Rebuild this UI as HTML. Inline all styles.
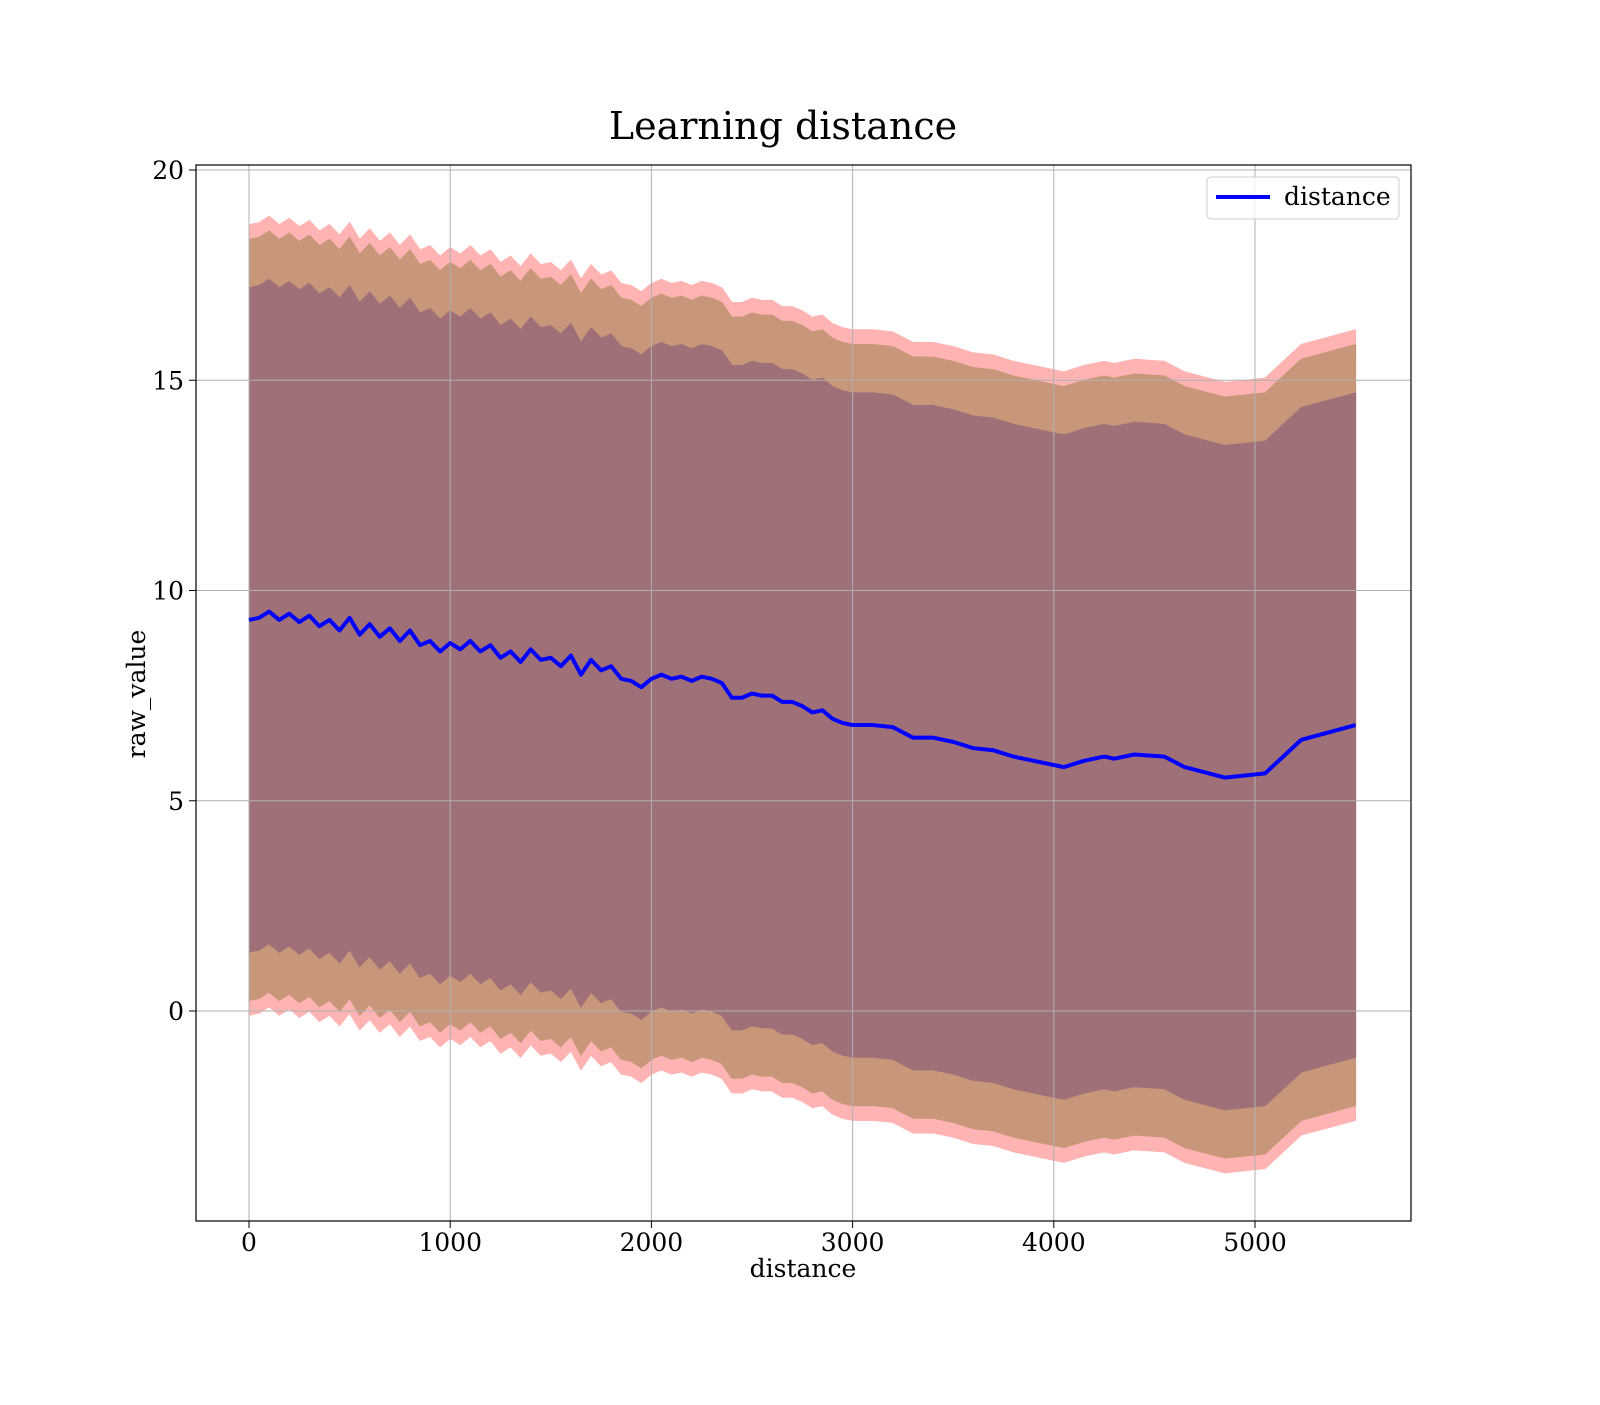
<!DOCTYPE html>
<html><head><meta charset="utf-8"><style>
body{margin:0;background:#fff}
svg text{font-family:"DejaVu Serif","Liberation Serif",serif;fill:#000}
</style></head><body>
<svg id="chart" width="1600" height="1400" viewBox="0 0 1600 1400">
<text x="783" y="139" font-size="38" text-anchor="middle">Learning distance</text>
<g id="bands"></g>
<g id="grid"></g>
<g id="line"></g>
<rect x="196" y="165" width="1215" height="1056" fill="none" stroke="#000" stroke-width="1.2"/>
<g id="ticks"></g>
<text x="803" y="1277" font-size="25" text-anchor="middle">distance</text>
<text transform="translate(145,694) rotate(-90)" font-size="25" text-anchor="middle">raw_value</text>
<g>
<rect x="1207" y="177" width="192" height="42" rx="4" fill="#fff" fill-opacity="0.8" stroke="#ccc"/>
<line x1="1216" y1="197" x2="1270" y2="197" stroke="#0000ff" stroke-width="4"/>
<text x="1284" y="205" font-size="25">distance</text>
</g>
</svg>
<script>
const xs=[0,50,100,150,200,250,300,350,400,450,500,550,600,650,700,750,800,850,900,950,1000,1050,1100,1150,1200,1250,1300,1350,1400,1450,1500,1550,1600,1650,1700,1750,1800,1850,1900,1950,2000,2050,2100,2150,2200,2250,2300,2350,2400,2450,2500,2550,2600,2650,2700,2750,2800,2850,2900,2950,3000,3100,3200,3300,3400,3500,3600,3700,3800,3900,4000,4050,4150,4250,4300,4400,4550,4650,4850,5050,5230,5500];
const meanValues=[9.3,9.35,9.5,9.3,9.45,9.25,9.4,9.15,9.3,9.05,9.35,8.95,9.2,8.9,9.1,8.8,9.05,8.7,8.8,8.55,8.75,8.6,8.8,8.55,8.7,8.4,8.55,8.3,8.6,8.35,8.4,8.2,8.45,8.0,8.35,8.1,8.2,7.9,7.85,7.7,7.9,8.0,7.9,7.95,7.85,7.95,7.9,7.8,7.45,7.45,7.55,7.5,7.5,7.35,7.35,7.25,7.1,7.15,6.95,6.85,6.8,6.8,6.75,6.5,6.5,6.4,6.25,6.2,6.05,5.95,5.85,5.8,5.95,6.05,6.0,6.1,6.05,5.8,5.55,5.65,6.45,6.8];
const bandWidths=[9.4,9.05,7.9];
const bandColors=['#ffb3b3','#c89679','#a07078'];
const xTicks=[0,1000,2000,3000,4000,5000];
const yTicks=[0,5,10,15,20];
const X=v=>249+v*0.2012, Y=v=>1011-v*42.05;
const NS='http://www.w3.org/2000/svg';
function mk(t,p,a){const e=document.createElementNS(NS,t);for(const k in a)e.setAttribute(k,a[k]);document.getElementById(p).appendChild(e);return e;}
bandWidths.forEach((w,i)=>{
 const up=xs.map((x,j)=>X(x)+','+Y(meanValues[j]+w)).join(' ');
 const lo=xs.map((x,j)=>X(x)+','+Y(meanValues[j]-w)).reverse().join(' ');
 const e=mk('polygon','bands',{points:up+' '+lo,fill:bandColors[i],stroke:bandColors[i]});
 
 
});
xTicks.forEach(v=>{
 const g=mk('line','grid',{x1:X(v),x2:X(v),y1:165,y2:1221,stroke:'#b0b0b0'});
 
 
 const t=mk('line','ticks',{x1:X(v),x2:X(v),y1:1221,y2:1228,stroke:'#000'});
 
 
 const l=mk('text','ticks',{x:X(v),y:1251,'font-size':25,'text-anchor':'middle'});l.textContent=v;
 
 
});
yTicks.forEach(v=>{
 const g=mk('line','grid',{x1:196,x2:1411,y1:Y(v),y2:Y(v),stroke:'#b0b0b0'});
 
 
 const t=mk('line','ticks',{x1:189,x2:196,y1:Y(v),y2:Y(v),stroke:'#000'});
 
 
 const l=mk('text','ticks',{x:184,y:Y(v)+9,'font-size':25,'text-anchor':'end'});l.textContent=v;
 
 
});
const ln=mk('polyline','line',{points:xs.map((x,j)=>X(x)+','+Y(meanValues[j])).join(' '),fill:'none',stroke:'#0000ff','stroke-width':4,'stroke-linejoin':'round'});


</script>
</body></html>
